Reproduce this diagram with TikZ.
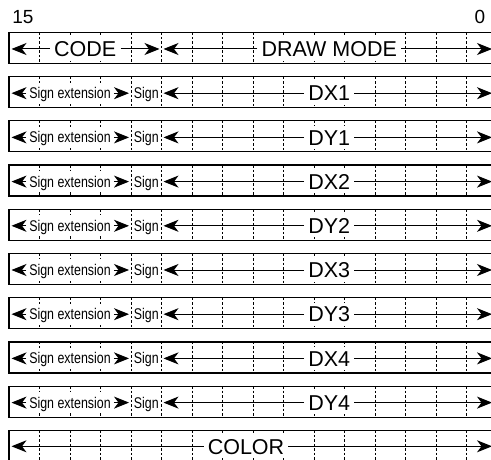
\documentclass[tikz,border=0pt]{standalone}
\usepackage{fontspec}
\setmainfont{Liberation Sans}
\newfontfamily\narrowfont[FakeStretch=0.8]{Liberation Sans}
\usetikzlibrary{arrows.meta}
\tikzset{
  rowbox/.style={line width=1.2pt},
  bitsep/.style={line width=1pt, dash pattern=on 2.5pt off 2pt},
  fieldarrow/.style={line width=1pt, -{Stealth[length=15pt,width=12pt,inset=4.5pt]}},
  biglabel/.style={fill=white, inner xsep=4pt, inner ysep=4pt, font=\fontsize{21.5}{23}\selectfont, text height=15.4pt, text depth=0pt},
  smalllabel/.style={fill=white, inner xsep=3pt, inner ysep=5pt, font=\fontsize{15.5}{17}\narrowfont, text height=11.1pt, text depth=0pt},
  signlabel/.style={fill=white, inner xsep=1pt, inner ysep=5pt, font=\fontsize{15.5}{17}\narrowfont, text height=11.1pt, text depth=0pt},
  bitnum/.style={font=\fontsize{19}{21}\selectfont}
}
\begin{document}
\begin{tikzpicture}[x=1pt,y=-1pt]
\useasboundingbox (0,0) rectangle (491,460);
\clip (0,0) rectangle (491,460);
\node[bitnum] (b15) at (23,17) {15};
\node[bitnum] (b0) at (480,17) {0};
% row frames and bit separators
\foreach \i in {0,...,9}{
  \pgfmathsetmacro{\T}{32.5+44.2*\i}
  \pgfmathsetmacro{\B}{\T+31}
  \foreach \k in {1,...,15}{
    \draw[bitsep] ({9+30.5*\k},\T) -- ({9+30.5*\k},\B);
  }
  \draw[rowbox] (9,\T) rectangle (497,\B);
}
% row 0: CODE / DRAW MODE
\node[biglabel] (code) at (85.25,49) {CODE};
\node[biglabel] (dmode) at (329.25,49) {DRAW MODE};
\coordinate (c0a) at (11.5,49);
\coordinate (c0b) at (159.5,49);
\coordinate (c0c) at (163.5,49);
\coordinate (c0d) at (492,49);
\draw[fieldarrow] (code.west) -- (c0a);
\draw[fieldarrow] (code.east) -- (c0b);
\draw[fieldarrow] (dmode.west) -- (c0c);
\draw[fieldarrow] (dmode.east) -- (c0d);
% rows 1-8
\foreach \i/\lab in {1/DX1,2/DY1,3/DX2,4/DY2,5/DX3,6/DY3,7/DX4,8/DY4}{
  \pgfmathsetmacro{\M}{32.5+44.2*\i+16.5}
  \node[smalllabel] (se\i) at (70,\M) {Sign extension};
  \node[signlabel] (sg\i) at (146.25,\M) {Sign};
  \node[biglabel] (v\i) at (329.25,\M) {\lab};
  \coordinate (l\i) at (11.5,\M);
  \coordinate (m\i) at (129,\M);
  \coordinate (n\i) at (163.5,\M);
  \coordinate (r\i) at (492,\M);
  \draw[fieldarrow] (se\i.west) -- (l\i);
  \draw[fieldarrow] (se\i.east) -- (m\i);
  \draw[fieldarrow] (v\i.west) -- (n\i);
  \draw[fieldarrow] (v\i.east) -- (r\i);
}
% row 9: COLOR
\node[biglabel] (color) at (246,446.3) {COLOR};
\coordinate (c9a) at (11.5,446.3);
\coordinate (c9b) at (492,446.3);
\draw[fieldarrow] (color.west) -- (c9a);
\draw[fieldarrow] (color.east) -- (c9b);
\end{tikzpicture}
\end{document}
